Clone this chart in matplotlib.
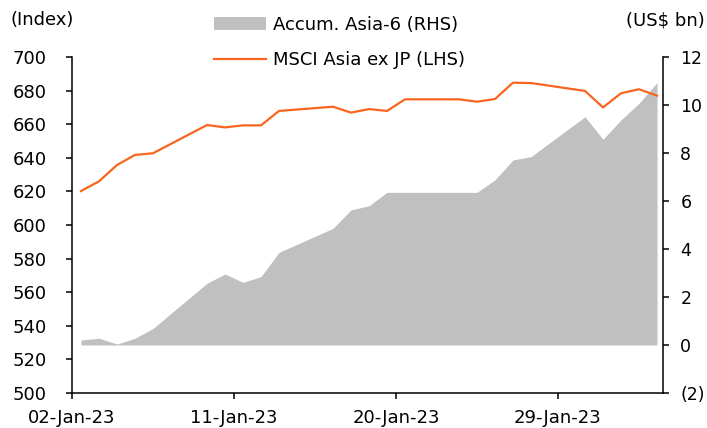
import numpy as np
import pandas as pd
import matplotlib
matplotlib.use("Agg")
import matplotlib.pyplot as plt
import matplotlib.dates as mdates
from matplotlib.patches import Patch
from matplotlib.lines import Line2D
from matplotlib.ticker import FuncFormatter

# trading days, Jan-Feb 2023
dates = pd.to_datetime([
    "2023-01-02", "2023-01-03", "2023-01-04", "2023-01-05", "2023-01-06",
    "2023-01-09", "2023-01-10", "2023-01-11", "2023-01-12", "2023-01-13",
    "2023-01-16", "2023-01-17", "2023-01-18", "2023-01-19", "2023-01-20",
    "2023-01-23", "2023-01-24", "2023-01-25", "2023-01-26", "2023-01-27",
    "2023-01-30", "2023-01-31", "2023-02-01", "2023-02-02", "2023-02-03",
])
msci = [620.2, 626.0, 635.7, 641.7, 642.7,
        659.5, 658.1, 659.3, 659.3, 667.9,
        670.4, 666.9, 669.0, 667.9, 674.8,
        674.8, 673.4, 675.0, 684.7, 684.5,
        679.8, 670.0, 678.4, 680.8, 677.0]
accum = [0.21, 0.28, 0.04, 0.28, 0.69,
         2.57, 2.96, 2.61, 2.85, 3.86,
         4.86, 5.63, 5.80, 6.36, 6.36,
         6.36, 6.36, 6.88, 7.71, 7.85,
         9.51, 8.57, 9.38, 10.07, 10.93]

left_ticks = np.arange(500, 701, 20)
right_ticks = np.arange(-2, 13, 2)
x_ticks = pd.to_datetime(["2023-01-02", "2023-01-11", "2023-01-20", "2023-01-29"])

plt.rcParams["font.family"] = ["DejaVu Sans"]
plt.rcParams["font.size"] = 13

orange = "#f8651e"
grey = "#c0c0c0"

# points sit in the middle of each day slot
x = dates + pd.Timedelta(hours=12)

fig = plt.figure(figsize=(7.07, 4.28), dpi=100)
ax = fig.add_axes([72 / 707, 1 - 393 / 428, (663 - 72) / 707, (393 - 57) / 428])
ax2 = ax.twinx()

ax2.fill_between(x, 0, accum, color=grey, linewidth=0)
ax.plot(x, msci, color=orange, linewidth=1.6)
ax.set_zorder(ax2.get_zorder() + 1)
ax.patch.set_visible(False)

ax.set_xlim(pd.Timestamp("2023-01-02"), pd.Timestamp("2023-02-03") + pd.Timedelta(hours=20))
ax.set_ylim(500, 700)
ax2.set_ylim(-2, 12)
ax.set_yticks(left_ticks)
ax2.set_yticks(right_ticks)
ax2.yaxis.set_major_formatter(FuncFormatter(lambda v, p: f"({abs(v):.0f})" if v < 0 else f"{v:.0f}"))
ax.set_xticks(x_ticks)
ax.xaxis.set_major_formatter(mdates.DateFormatter("%d-%b-%y"))

for a in (ax, ax2):
    a.spines["top"].set_visible(False)
    for s in a.spines.values():
        s.set_linewidth(1.1)
ax.spines["right"].set_visible(False)
ax2.spines["left"].set_visible(False)
ax2.spines["bottom"].set_visible(False)
ax.tick_params(axis="x", direction="out", length=4.5, width=1.1, pad=7)
ax.tick_params(axis="y", direction="out", length=4.5, width=1.1, pad=13.5)
ax2.tick_params(axis="y", direction="out", length=4.5, width=1.1, pad=8, labelsize=12.5)

fig.text(10 / 707, 1 - 20 / 428, "(Index)", ha="left", va="center")
fig.text(705 / 707, 1 - 20 / 428, "(US$ bn)", ha="right", va="center")

handles = [Patch(facecolor=grey, edgecolor="none"),
           Line2D([0], [0], color=orange, linewidth=1.6)]
labels = ["Accum. Asia-6 (RHS)", "MSCI Asia ex JP (LHS)"]
fig.legend(handles, labels, loc="upper left", bbox_to_anchor=(203 / 707, 1 - 5 / 428),
           frameon=False, labelspacing=0.95, handlelength=2.9, handleheight=0.75,
           handletextpad=0.4, borderaxespad=0.2)

fig.savefig("out.png", dpi=100)
